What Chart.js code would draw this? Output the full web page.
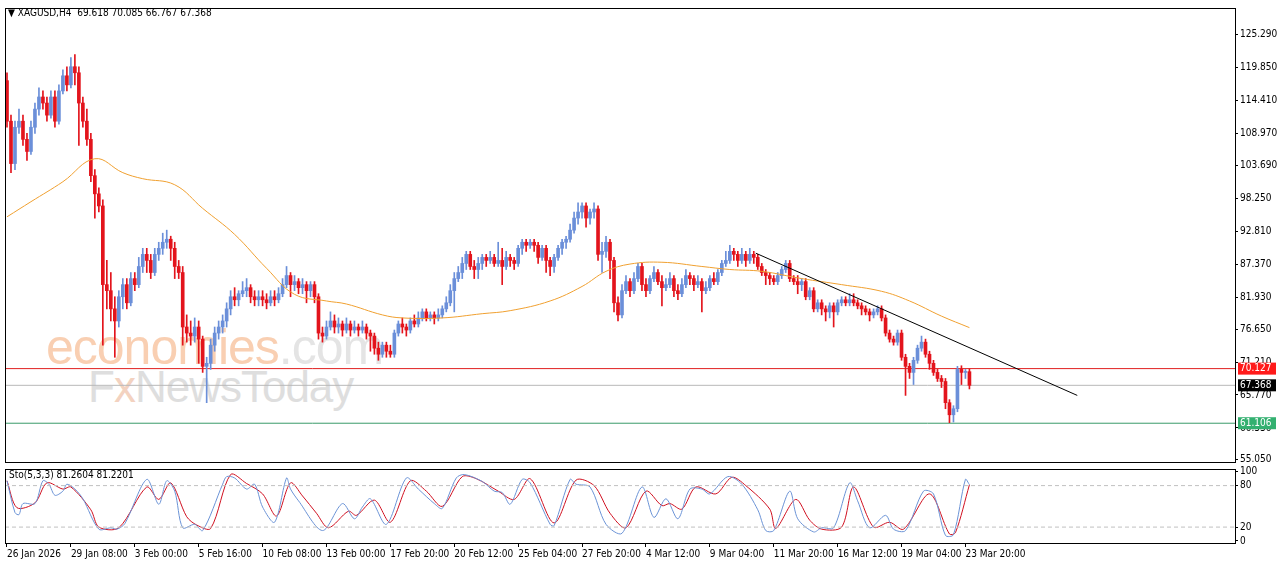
<!DOCTYPE html>
<html><head><meta charset="utf-8">
<script src="https://cdn.jsdelivr.net/npm/chart.js@4.4.1/dist/chart.umd.min.js"></script>
<style>
html,body{margin:0;padding:0;background:#fff;width:1280px;height:567px;overflow:hidden;font-family:"DejaVu Sans",sans-serif}
#main{position:absolute;left:0;top:0;width:1280px;height:470px}
#sto{position:absolute;left:0;top:461px;width:1280px;height:106px}
.wm{position:absolute;white-space:nowrap;font-family:"Liberation Sans",Arial,sans-serif}
#title{position:absolute;left:8px;top:7px;font-size:10px;color:#000;font-family:"DejaVu Sans Condensed","DejaVu Sans",sans-serif}
#stolbl{position:absolute;left:9px;top:469px;font-size:10px;color:#000;font-family:"DejaVu Sans Condensed","DejaVu Sans",sans-serif}
</style></head><body>
<div class="wm" style="left:46px;top:318px;font-size:50px;color:#f9cfb2;letter-spacing:-1px">economies<span style="color:#e4e4e4">.com</span></div>
<div class="wm" style="left:88px;top:362px;font-size:44px;color:#dedede;letter-spacing:-1px">F<span style="color:#f3d2c0">x</span>NewsToday</div>
<div id="main"><canvas id="c1"></canvas></div>
<div id="sto"><canvas id="c2"></canvas></div>
<div id="title">▼ XAGUSD,H4&nbsp; 69.618 70.085 66.767 67.368</div>
<div id="stolbl">Sto(5,3,3) 81.2604 81.2201</div>
<script>
const firstOpen = 117.7;
const closes = [111,104,110,111,108,106,110,113,115,114,
112,115,111,116,118.5,117,120,119,114,111,
108,102,99,97,84,83,80,78,82,84,
81,85,84,87,89,88,86,89,90,91,
91.5,90,87,86,77,76,75.5,77,75,70.5,
71,74,76,77,78,80,82,81.5,82.5,83,
83.5,82,81.5,82,81.5,81,82,81.5,82.5,84,
85.5,84,84.5,83.5,84,83,84,82,76,75.5,
77,78,77,77.5,76.5,77.5,76.5,77,76.5,77,
76,75.5,73.5,72.5,74,73,72.5,76,77.5,77,
76.5,78,77.5,78.5,79.5,78.5,79,78.5,79,80,
81,83,85,86,87.5,89,87,86.5,87.5,88.5,
88,88.5,87.5,88,87,88.5,88,87.5,90,91,
90.5,91,90.5,88.5,90,88,87,88.5,90,91,
91.5,93,95,96,97,95,96,96.5,89,89.5,
91,88,81,79,83,84.5,83,85,87,84,
83,85,86,84.5,83.5,84,85,83,82.5,84,
85.5,85,84,84.5,83,83.5,85,84.5,86,87.5,
88,89.5,89,88,89,88,89,88.5,87,86,
85.5,85,84.5,85.5,86.5,87.5,85,84.5,84,84.5,
82,83,80,81,80,79.5,80.5,79.5,81,81.5,
81,81.5,81,80.5,80,79.5,79,79.5,80,78.5,
76,75,74.5,76,72,70.5,69.5,71.5,73.5,74.5,
72.5,71,69.5,68.5,68,64.5,62.5,63.5,70,69.5,
69.618,67.368];
const highs = [119,112,111,113,112,109,111,114,116.5,116,
115,116,116,117,119.5,120,121.5,122,120,115,
113,109,103,100,98,88,86,82,83,85,
85,86,86,88.5,90,90,89,90,91,92.5,
93,92,91,88,87,79,78,78.5,78,75.5,
72,75,77,78,79,81,83,83.5,83,84.5,
85,84,83,83,83,82.5,83,83,83.5,85,
87,86,85.5,85,85,84.5,84.5,84.5,82.5,77,
78,79.5,79,78.5,78,78.5,78,78,77.5,78,
77.5,76.5,76,74.5,74.5,74.5,74,76.5,78,78.5,
77.5,78.5,79,79.5,80,80,79.5,79.5,80,80.5,
82,84,86,87,88.5,89.5,89.5,88,88.5,89,
89,89.5,89,91,90,89.5,89,88.5,90.5,91.5,
91.5,91.5,91.5,91,90.5,90.5,88.5,89,90.5,91.5,
92,94,96,97.5,97.5,97.5,96.5,97.5,97,91,
92,91.5,88.5,82,84,85.5,85,86,87.5,87.5,
85,85.5,87,86.5,85.5,85,86,85.5,84,85,
86.5,86,85.5,85.5,85,84.5,85.5,86,86.5,88,
89.5,90.5,90,89.5,90,89.5,90,89.5,89,87.5,
86.5,86,85.5,86,87,88,88,85.5,85.5,85,
85,83.5,83.5,81.5,81.5,80.5,81,81,81.5,82,
82,82.5,82.5,81.5,81,80.5,80,80,80.5,80.5,
79,76.5,75.5,76.5,76.5,72.5,71,72,74,75.5,
75,73,71.5,70,69,68.5,65,64,70.5,70.6,
70,70.085];
const lows = [110,102.5,103,109,107,104.5,105.5,109,112,113,
111,111.5,110,110.5,115.5,116,116.5,117,107,110,
107,101,95,96,74,80,78,72,77,80,
80,80.5,83,83.5,86,86,85,85.5,88,89,
90,88,85,85,74,74.5,74,74.5,71,69.5,
64.5,70,73,75,76,77,79,80.5,80.5,82,
82,81,80.5,80.5,80.5,80,80.5,80.5,81,82,
83.5,82,83,82.5,82.5,81,82,81,75,74.5,
75,76.5,76,76,75.5,76,75.5,76,75.5,76,
75,73,72.5,71.5,72,72,72,72,75.5,76,
75.5,76,77,77,78,78,78,77.5,78,78.5,
79.5,80.5,79.5,84.5,85,86.5,86.5,85,85,86.5,
87,87.5,87,87,84,86.5,87,86.5,87,89,
89.5,90,89.5,87.5,88,86,85.5,86,88,89,
90,91,92.5,94,95,93.5,94,95,88,86,
88.5,85,79.5,78,78.5,82.5,82,82.5,84.5,83,
82,82.5,84.5,84,80.5,83,83.5,82,81.5,82,
83.5,84,83,83.5,79.5,82.5,83,84,84,85.5,
87,87.5,88,87,87.5,87,87.5,87.5,86.5,85.5,
84,84,84,84,85,86,84.5,84,82.5,83,
81.5,81.5,79.5,79.5,79,78,78.5,77,79,80.5,
80.5,80.5,80.5,80,79,79,78,78.5,79,78,
75.5,74.5,74,74,71.5,65.7,68.5,67.5,71,73,
72,70,69,68,67,63.5,61.2,61.3,63,67.5,
68.5,66.767];
const maIdx = [0,6,14,22,29,34,42,49,57,65,72,80,85,94,99,109,119,126,136,144,150,156,164,174,181,189,199,209,219,226,234,241];
const maVal = [95.2,97.7,101,104.8,102.5,101.5,100.5,96.6,92.3,86.7,82.4,81.3,80.8,79,78.5,78.5,79.2,79.7,81.3,83.7,86.2,87.4,87.7,87,86.5,86.2,85,84,82.9,81.3,78.8,76.9];
const trendIdx = [187.5,268];
const trendVal = [89.2,65.7];
const levels = {red:70.127, gray:67.368, green:61.106};
const priceTicks = [125.29,119.85,114.41,108.97,103.69,98.25,92.81,87.37,81.93,76.65,71.21,65.77,60.33,55.05];
const kIdx = [0,2,3,4,7,9,10.5,12,14,15,17,19,23,26,27.5,29.5,35,38,40,42,44,47,49,54,55,57,60,62,64,67,70,71,73,79,84,87,89,91,95,100,103,107,109,112.5,114.5,119,122,124,126,129,131,136,137,141,142.5,146,150,154,159,162,165,168,171,174,176,180.5,184,188,190,192,196,198,202,204,207,211,213,216,220,222,225,229.5,232,235,237,240,241];
const kVal = [87,41,38,54,54,87,82,66,72,82,75,61,17,19,17,25,89,53,87,72,19,24,15,82,93,91,75,82,49,27,91,75,58,15,54,32,49,61,24,91,75,54,47,91,96,86,72,70,53,89,84,24,22,89,82,78,24,11,78,34,61,32,75,75,68,93,82,45,15,15,72,32,13,19,19,84,58,19,37,17,15,72,68,8,9,89,81.26];
const dIdx = [0,2.5,7,10,14,16,21,23,28,35,38,41,45,47.5,51,56,60,64,67.5,71,74,77.5,80.5,85.5,87.5,92,96,101,105,109,114,117.5,123,127,131,137,142.5,147,151,155,160,164,166,169,172.5,177.5,181.5,185,191,192.5,197.5,201,204,209,212,217,221,224.5,231,236,237.5,241];
const dVal = [87,48,55,84,75,78,45,20,19,78,60,84,35,23,18,96,83,68,36,84,65,40,19,43,37,59,27,87,72,50,93,90,72,60,90,26,88,80,40,19,72,51,54,46,78,68,92,80,46,18,60,30,17,20,78,20,27,17,68,10,12,81.22];
const xLabels = ["26 Jan 2026","29 Jan 08:00","3 Feb 00:00","5 Feb 16:00","10 Feb 08:00","13 Feb 00:00","17 Feb 20:00","20 Feb 12:00","25 Feb 04:00","27 Feb 20:00","4 Mar 12:00","9 Mar 04:00","11 Mar 20:00","16 Mar 12:00","19 Mar 04:00","23 Mar 20:00"];
const labelStep = 16;

const UP='#6b8fd9', DN='#e3141c';
const XMIN=-0.5, XMAX=307.5;
const opens = closes.map((c,i)=> i===0 ? firstOpen : closes[i-1]);
const bodies = closes.map((c,i)=>({x:i,y:[opens[i],c]}));
const wicks = closes.map((c,i)=>({x:i,y:[lows[i],highs[i]]}));
const col = ctx => { const i=ctx.dataIndex; return closes[i]>=opens[i]?UP:DN; };
const FONT='"DejaVu Sans Condensed", "DejaVu Sans", sans-serif';
Chart.defaults.font.family=FONT;
Chart.defaults.font.size=10;
Chart.defaults.color='#000';
Chart.defaults.animation=false;

const frame = {id:'frame', afterDraw(ch){const a=ch.chartArea,c=ch.ctx;c.save();c.strokeStyle='#000';c.lineWidth=1;c.strokeRect(Math.round(a.left)+0.5,Math.round(a.top)+0.5,Math.round(a.right-a.left),Math.round(a.bottom-a.top));c.restore();}};
const boxes = {id:'boxes', afterDraw(ch){const y=ch.scales.y,c=ch.ctx,a=ch.chartArea;
 [[levels.red,'#ff1a1a','#fff'],[levels.gray,'#000','#fff'],[levels.green,'#33b070','#fff']].forEach(([v,bg,fg])=>{
  const py=y.getPixelForValue(v);c.fillStyle=bg;c.fillRect(a.right+3,py-6,38,12);c.fillStyle=fg;c.font='10px '+FONT;c.textBaseline='middle';c.fillText(v.toFixed(3),a.right+5,py);});}};
const lvl=(v,color)=>({type:'line',data:[{x:XMIN,y:v},{x:XMAX,y:v}],borderColor:color,borderWidth:1,pointRadius:0,order:5});

new Chart(document.getElementById('c1'),{
 type:'bar',
 data:{datasets:[
  {type:'line',data:maIdx.map((x,i)=>({x,y:maVal[i]})),borderColor:'#f0a030',borderWidth:1,pointRadius:0,tension:0.4,order:1},
  {type:'line',data:trendIdx.map((x,i)=>({x,y:trendVal[i]})),borderColor:'#000',borderWidth:1,pointRadius:0,order:0},
  lvl(levels.red,'#e02020'),lvl(levels.gray,'#b8b8b8'),lvl(levels.green,'#3a9a6a'),
  {data:wicks,backgroundColor:col,barThickness:1,order:3},
  {data:bodies,backgroundColor:col,barThickness:3,minBarLength:1,order:2}
 ]},
 options:{responsive:true,maintainAspectRatio:false,grouped:false,
  layout:{padding:{left:5,top:0,right:0,bottom:0}},
  plugins:{legend:{display:false},tooltip:{enabled:false}},
  scales:{
   x:{type:'linear',min:XMIN,max:XMAX,display:false,offset:false},
   y:{position:'right',min:54.7,max:129.7,
     afterBuildTicks:s=>{s.ticks=priceTicks.map(v=>({value:v}));},
     afterFit:s=>{s.width=45;},
     ticks:{callback:v=>Number(v).toFixed(3),padding:2,autoSkip:false,font:{size:10}},
     grid:{drawOnChartArea:false,tickLength:3,color:'#000'},border:{color:'#000'}}
  }},
 plugins:[frame,boxes]
});

new Chart(document.getElementById('c2'),{
 type:'line',
 data:{datasets:[
  {data:[{x:XMIN,y:80},{x:XMAX,y:80}],borderColor:'#c0c0c0',borderDash:[4,3],borderWidth:1,pointRadius:0},
  {data:[{x:XMIN,y:20},{x:XMAX,y:20}],borderColor:'#c0c0c0',borderDash:[4,3],borderWidth:1,pointRadius:0},
  {data:kIdx.map((x,i)=>({x,y:kVal[i]})),borderColor:'#6b93d6',borderWidth:1,pointRadius:0,tension:0.3},
  {data:dIdx.map((x,i)=>({x,y:dVal[i]})),borderColor:'#d01020',borderWidth:1,pointRadius:0,tension:0.3}
 ]},
 options:{responsive:true,maintainAspectRatio:false,
  layout:{padding:{left:5,top:4,right:0,bottom:6}},
  plugins:{legend:{display:false},tooltip:{enabled:false}},
  scales:{
   x:{type:'linear',min:XMIN,max:XMAX,
     afterBuildTicks:s=>{s.ticks=xLabels.map((l,i)=>({value:i*labelStep}));},
     ticks:{callback:(v)=>xLabels[Math.round(v/labelStep)]||'',autoSkip:false,maxRotation:0,align:'start',padding:1,font:{size:10}},
     grid:{drawOnChartArea:false,tickLength:4,color:'#000'},border:{color:'#000'}},
   y:{position:'right',min:-3,max:104,
     afterBuildTicks:s=>{s.ticks=[0,20,80,100].map(v=>({value:v}));},
     afterFit:s=>{s.width=45;},
     ticks:{autoSkip:false,padding:2,font:{size:10}},
     grid:{drawOnChartArea:false,tickLength:3,color:'#000'},border:{color:'#000'}}
  }},
 plugins:[frame]
});
</script></body></html>
